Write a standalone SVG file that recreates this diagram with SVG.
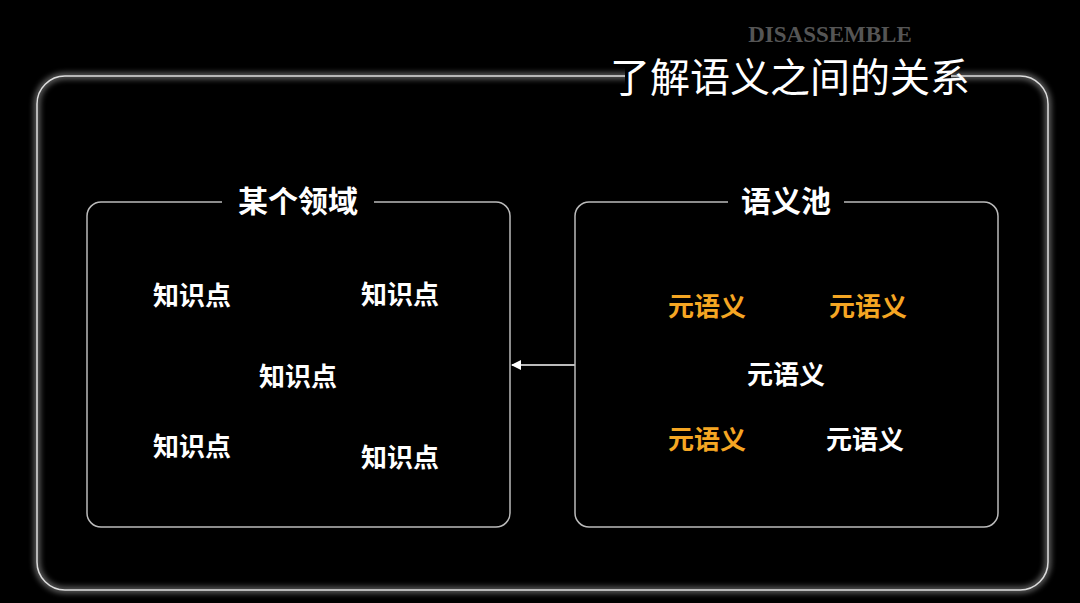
<svg xmlns="http://www.w3.org/2000/svg" width="1080" height="603" viewBox="0 0 1080 603">
<defs>
<filter id="glow" x="-10%" y="-10%" width="120%" height="120%"><feGaussianBlur stdDeviation="3"/></filter>
<marker id="ah" markerWidth="10" markerHeight="10" refX="9" refY="5" orient="auto" markerUnits="userSpaceOnUse"><path d="M0,0 L10,5 L0,10 Z" fill="#fff"/></marker>
</defs>
<style>
.t{font-family:"Noto Sans CJK SC",sans-serif;font-weight:bold;font-size:26px;fill:#fff;text-anchor:middle}
.o{fill:#f5a623}
.box{fill:none;stroke:#bbb;stroke-width:1.5}
.h{font-family:"Noto Sans CJK SC",sans-serif;font-weight:bold;font-size:30px;fill:#fff;text-anchor:middle}
</style>
<rect width="1080" height="603" fill="#000"/>
<g id="frame">
<rect x="37" y="76" width="1011" height="514" rx="28" fill="none" stroke="#fff" stroke-width="4" opacity="0.6" filter="url(#glow)"/>
<rect x="37" y="76" width="1011" height="514" rx="28" fill="none" stroke="#ddd" stroke-width="1.5"/>
<rect x="625" y="60" width="326" height="40" fill="#000"/>
<text x="830" y="42" font-family="Liberation Serif,serif" font-weight="bold" font-size="23" fill="#555" text-anchor="middle">DISASSEMBLE</text>
<text x="790" y="92" font-family="Noto Sans CJK SC,sans-serif" font-size="40" fill="#fff" text-anchor="middle">了解语义之间的关系</text>
</g>
<g id="domain">
<rect class="box" x="87" y="202" width="423" height="325" rx="14"/>
<rect x="222" y="185" width="152" height="34" fill="#000"/>
<text class="h" x="298" y="212">某个领域</text>
<text class="t" x="192" y="305">知识点</text>
<text class="t" x="400" y="304">知识点</text>
<text class="t" x="298" y="386">知识点</text>
<text class="t" x="192" y="456">知识点</text>
<text class="t" x="400" y="467">知识点</text>
</g>
<g id="pool">
<rect class="box" x="575" y="202" width="423" height="325" rx="14"/>
<rect x="728" y="185" width="116" height="34" fill="#000"/>
<text class="h" x="786" y="212">语义池</text>
<text class="t o" x="707" y="316">元语义</text>
<text class="t o" x="868" y="316">元语义</text>
<text class="t" x="786" y="384">元语义</text>
<text class="t o" x="707" y="449">元语义</text>
<text class="t" x="865" y="449">元语义</text>
</g>
<g id="connectors">
<line x1="575" y1="365" x2="512" y2="365" stroke="#bbb" stroke-width="2" marker-end="url(#ah)"/>
</g>
</svg>
